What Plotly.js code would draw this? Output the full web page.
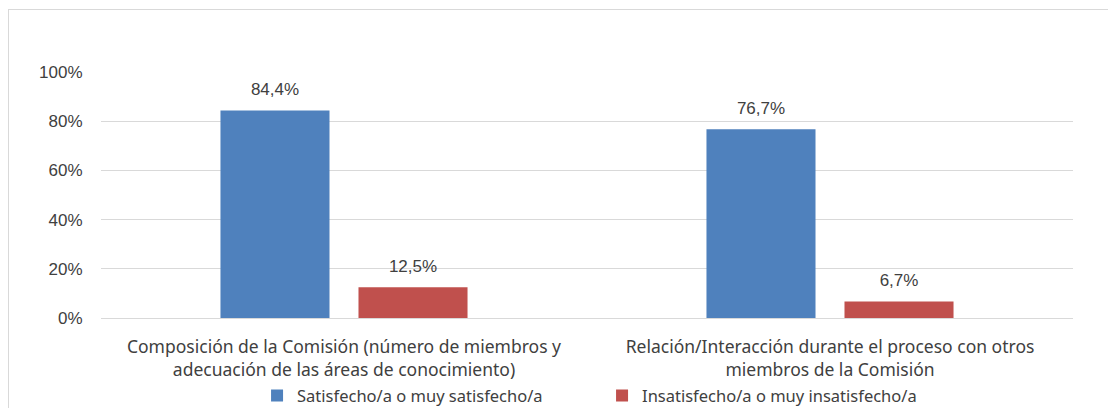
<!DOCTYPE html>
<html><head><meta charset="utf-8">
<script src="https://cdn.plot.ly/plotly-3.0.1.min.js"></script>
<style>
html,body{margin:0;padding:0;background:#fff;overflow:hidden;}
#frame{position:absolute;left:8px;top:9px;width:1200px;height:500px;border:1px solid #d9d9d9;}
#chart{position:absolute;left:0;top:0;width:1108px;height:408px;}
</style></head>
<body>
<div id="frame"></div>
<div id="chart"></div>
<script>
const categories = [
  "Composición de la Comisión (número de miembros y<br>adecuación de las áreas de conocimiento)",
  "Relación/Interacción durante el proceso con otros<br>miembros de la Comisión"
];
const seriesNames = ["Satisfecho/a o muy satisfecho/a", "Insatisfecho/a o muy insatisfecho/a"];
const satisfied = [84.4, 76.7];
const unsatisfied = [12.5, 6.7];
const colors = ["#4F81BD", "#C0504D"];
const labelFont = {family: "Liberation Sans, Arial, sans-serif", size: 17, color: "#404040"};
const catFont = {family: "Noto Sans, sans-serif", size: 17.5, color: "#404040"};

const traces = [satisfied, unsatisfied].map((vals, i) => ({
  type: "bar",
  name: seriesNames[i],
  x: categories,
  y: vals,
  marker: {color: colors[i]},
  texttemplate: "<span style='font-size:17px'>%{y:.1f}%</span><br> ",
  textposition: "outside",
  cliponaxis: false,
  textfont: {family: labelFont.family, size: 8, color: labelFont.color},
  hoverinfo: "none"
}));

const layout = {
  width: 1108, height: 408,
  margin: {l: 101, r: 35, t: 72, b: 90},
  paper_bgcolor: "rgba(0,0,0,0)",
  plot_bgcolor: "rgba(0,0,0,0)",
  separators: ",.",
  barmode: "group",
  bargap: 0.432,
  bargroupgap: 0.21,
  showlegend: true,
  font: labelFont,
  xaxis: {
    tickfont: catFont,
    showgrid: false, zeroline: false, showline: false,
    ticks: "outside", ticklen: 13, tickcolor: "rgba(0,0,0,0)", automargin: false
  },
  yaxis: {
    range: [0, 100], dtick: 20, ticksuffix: "%",
    tickfont: labelFont,
    gridcolor: "#d9d9d9", gridwidth: 1,
    zeroline: true, zerolinecolor: "#d9d9d9", zerolinewidth: 1,
    showline: false, ticks: "outside", ticklen: 14, tickcolor: "rgba(0,0,0,0)", automargin: false
  },
  legend: {
    orientation: "h", xref: "container", yref: "container",
    x: 0.232, xanchor: "left", y: 0.03, yanchor: "middle",
    font: {family: "Noto Sans, sans-serif", size: 16.5, color: "#404040"},
    entrywidth: 300, entrywidthmode: "pixels", traceorder: "normal",
    itemwidth: 30
  }
};
Plotly.newPlot("chart", traces, layout, {staticPlot: true, displayModeBar: false});
</script>
</body></html>
